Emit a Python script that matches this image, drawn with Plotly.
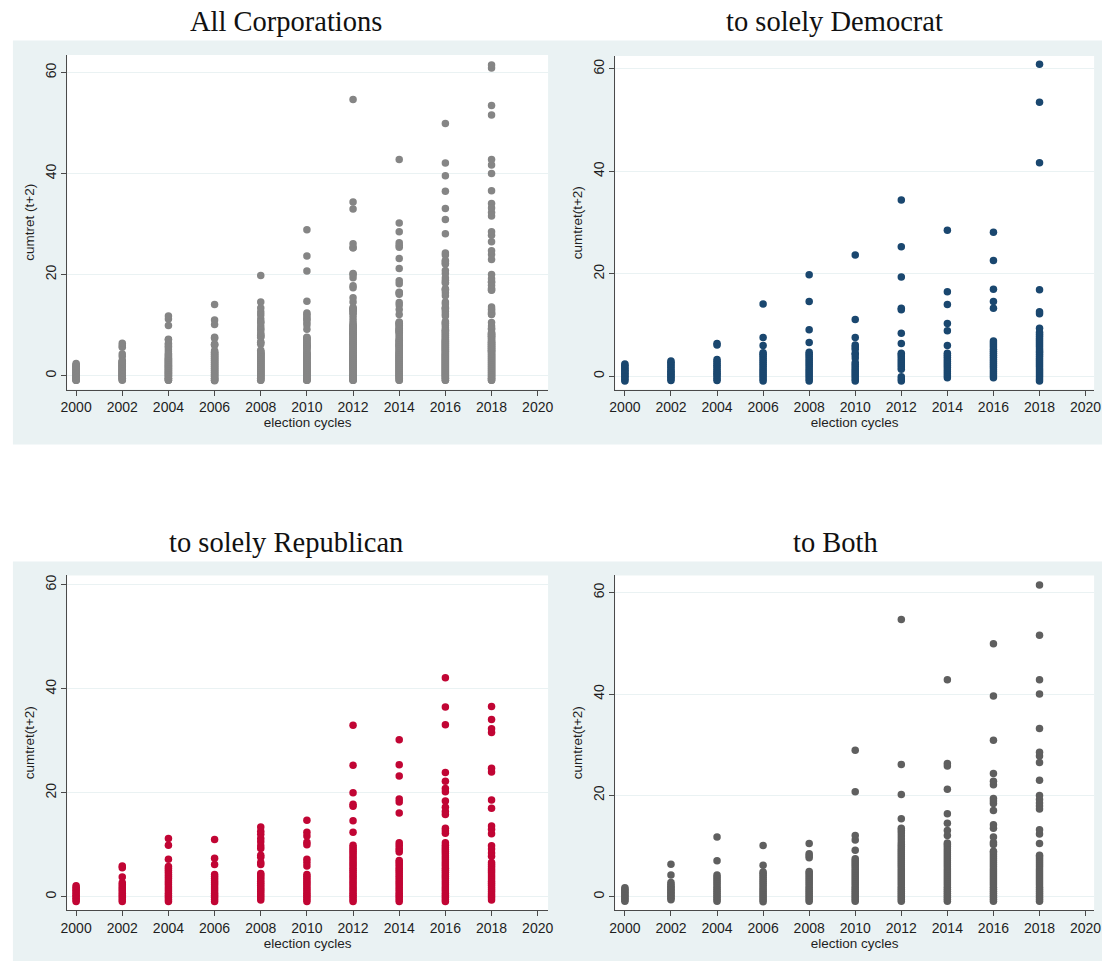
import plotly.graph_objects as go

# Election cycles on the x axis
CYCLES = [2000, 2002, 2004, 2006, 2008, 2010, 2012, 2014, 2016, 2018]
X_TICKS = [2000, 2002, 2004, 2006, 2008, 2010, 2012, 2014, 2016, 2018, 2020]
Y_TICKS = [0, 20, 40, 60]

# cumtret(t+2) for firms giving solely to Democrats, one list per cycle
DEM_VALUES = [
    [-0.9, -0.6, -0.3, 0.0, 0.3, 0.6, 0.9, 1.2, 1.5, 1.8, 2.1, 2.4],
    [-0.8, -0.5, -0.2, 0.1, 0.4, 0.7, 1.0, 1.3, 1.7, 2.0, 2.4, 2.7, 3.0],
    [-0.8, -0.5, -0.1, 0.3, 0.6, 1.0, 1.4, 1.8, 2.1, 2.5, 2.9, 3.3, 6.1, 6.4],
    [-0.9, -0.5, -0.1, 0.3, 0.7, 1.1, 1.5, 1.9, 2.3, 2.7, 3.1, 3.5, 3.9, 4.3, 4.6,
     6.0, 7.6, 14.1],
    [-0.9, -0.5, -0.1, 0.3, 0.7, 1.1, 1.5, 1.9, 2.3, 2.7, 3.1, 3.5, 3.9, 4.3, 4.7,
     6.6, 9.1, 14.6, 19.8],
    [-0.9, -0.5, -0.1, 0.3, 0.7, 1.1, 1.5, 1.9, 2.3, 2.7, 3.6, 4.2, 4.5, 5.3, 5.7,
     6.1, 7.6, 11.1, 23.7],
    [-0.9, -0.5, -0.1, 1.4, 1.8, 2.2, 2.6, 3.0, 3.4, 3.8, 4.2, 4.5, 6.4, 8.4, 13.0,
     13.3, 19.4, 25.3, 34.4],
    [-0.3, 0.1, 0.5, 0.9, 1.3, 1.7, 2.1, 2.5, 2.9, 3.3, 3.7, 4.1, 4.5, 6.0, 8.9,
     10.3, 14.0, 16.5, 28.5],
    [-0.3, 0.1, 0.5, 0.9, 1.3, 1.7, 2.1, 2.5, 2.9, 3.3, 3.7, 4.1, 4.5, 4.9, 5.3,
     5.7, 6.1, 6.5, 6.9, 13.3, 14.6, 17.0, 22.6, 28.1],
    [-0.9, -0.5, -0.1, 0.3, 0.7, 1.1, 1.5, 1.9, 2.3, 2.7, 3.1, 3.5, 3.9, 4.3, 4.7,
     5.0, 5.4, 5.8, 6.2, 6.6, 7.0, 7.4, 7.8, 8.2, 8.6, 9.4, 12.2, 12.6, 16.9,
     41.7, 53.5, 60.9],
]

# cumtret(t+2) for firms giving solely to Republicans
REP_VALUES = [
    [-0.9, -0.6, -0.3, 0.0, 0.3, 0.6, 0.9, 1.2, 1.5, 1.8, 2.1],
    [-0.9, -0.5, -0.1, 0.3, 0.7, 1.1, 1.5, 1.9, 2.3, 2.7, 3.8, 5.6, 5.9],
    [-0.9, -0.5, -0.1, 0.3, 0.7, 1.1, 1.5, 1.9, 2.3, 2.7, 3.1, 3.5, 3.9, 4.3, 4.7,
     5.1, 5.5, 5.8, 7.2, 9.9, 11.2],
    [-0.9, -0.5, -0.1, 0.3, 0.7, 1.1, 1.5, 1.9, 2.3, 2.7, 3.1, 3.5, 3.9, 4.3, 6.2,
     7.4, 11.0],
    [-0.6, -0.2, 0.2, 0.6, 1.0, 1.4, 1.8, 2.2, 2.6, 3.0, 3.4, 3.8, 4.2, 4.5, 6.2,
     6.6, 7.6, 8.0, 9.3, 9.8, 10.6, 11.2, 12.0, 12.6, 13.4],
    [-0.9, -0.5, -0.1, 0.3, 0.7, 1.1, 1.5, 1.9, 2.3, 2.7, 3.1, 3.5, 3.9, 4.3, 5.9,
     6.6, 7.2, 10.0, 10.5, 11.7, 12.4, 14.7],
    [-0.9, -0.5, -0.1, 0.3, 0.7, 1.1, 1.5, 1.9, 2.3, 2.7, 3.1, 3.5, 3.9, 4.3, 4.7,
     5.1, 5.5, 5.9, 6.3, 6.7, 7.1, 7.5, 7.9, 8.3, 8.7, 9.1, 9.5, 9.9, 12.4, 14.6,
     17.4, 17.8, 20.0, 25.3, 33.0],
    [-0.9, -0.5, -0.1, 0.3, 0.7, 1.1, 1.5, 1.9, 2.3, 2.7, 3.1, 3.5, 3.9, 4.3, 4.7,
     5.1, 5.5, 5.9, 6.3, 6.7, 7.0, 8.6, 9.0, 9.4, 9.9, 10.4, 16.1, 18.2, 18.8,
     23.2, 25.4, 30.2],
    [-0.9, -0.5, -0.1, 0.3, 0.7, 1.1, 1.5, 1.9, 2.3, 2.7, 3.1, 3.5, 3.9, 4.3, 4.7,
     5.1, 5.5, 5.9, 6.3, 6.7, 7.1, 7.5, 7.9, 8.3, 8.7, 9.1, 9.5, 9.9, 10.4, 12.2,
     12.7, 13.2, 15.8, 16.4, 17.2, 18.4, 20.2, 20.8, 22.2, 23.9, 33.1, 36.5, 42.1],
    [-0.6, -0.2, 0.2, 0.6, 1.0, 1.4, 1.8, 2.2, 2.6, 3.0, 3.4, 3.8, 4.2, 4.6, 5.0,
     5.4, 5.8, 6.2, 6.6, 7.8, 8.4, 9.2, 9.8, 12.1, 13.0, 13.6, 17.0, 18.6, 24.0,
     24.7, 31.6, 32.3, 34.1, 36.6],
]

# cumtret(t+2) for firms giving to both parties
BOTH_VALUES = [
    [-0.9, -0.6, -0.3, 0.0, 0.3, 0.6, 0.9, 1.2, 1.5, 1.8],
    [-0.6, -0.3, 0.0, 0.3, 0.6, 0.9, 1.2, 1.5, 1.8, 2.1, 2.4, 2.8, 4.3, 6.4],
    [-0.9, -0.5, -0.1, 0.3, 0.7, 1.1, 1.5, 1.9, 2.3, 2.7, 3.1, 3.5, 3.9, 4.3, 7.1,
     11.8],
    [-1.0, -0.6, -0.2, 0.2, 0.6, 1.0, 1.4, 1.8, 2.2, 2.6, 3.0, 3.4, 3.8, 4.2, 4.6,
     4.9, 6.2, 10.1],
    [-0.9, -0.5, -0.1, 0.3, 0.7, 1.1, 1.5, 1.9, 2.3, 2.7, 3.1, 3.5, 3.9, 4.3, 4.7,
     5.0, 7.7, 8.1, 8.5, 10.5],
    [-0.9, -0.5, -0.1, 0.3, 0.7, 1.1, 1.5, 1.9, 2.3, 2.7, 3.1, 3.5, 3.9, 4.3, 4.7,
     5.1, 5.5, 5.9, 6.3, 6.7, 7.1, 7.5, 9.2, 11.2, 12.1, 20.7, 28.9],
    [-0.9, -0.5, -0.1, 0.3, 0.7, 1.1, 1.5, 1.9, 2.3, 2.7, 3.1, 3.5, 3.9, 4.3, 4.7,
     5.1, 5.5, 5.9, 6.3, 6.7, 7.1, 7.5, 7.9, 8.3, 8.7, 9.1, 9.5, 9.9, 10.3, 10.8,
     11.4, 12.0, 12.6, 13.1, 13.5, 15.4, 20.2, 26.1, 54.7],
    [-0.9, -0.5, -0.1, 0.3, 0.7, 1.1, 1.5, 1.9, 2.3, 2.7, 3.1, 3.5, 3.9, 4.3, 4.7,
     5.1, 5.5, 5.9, 6.3, 6.7, 7.1, 7.5, 7.9, 8.3, 8.7, 9.1, 9.5, 9.9, 10.3, 10.6,
     12.1, 13.1, 14.5, 16.4, 21.2, 25.8, 26.3, 42.8],
    [-0.9, -0.5, -0.1, 0.3, 0.7, 1.1, 1.5, 1.9, 2.3, 2.7, 3.1, 3.5, 3.9, 4.3, 4.7,
     5.1, 5.5, 5.9, 6.3, 6.7, 7.1, 7.5, 7.9, 8.3, 8.7, 9.0, 10.3, 10.7, 11.8, 13.5,
     14.2, 17.0, 18.4, 18.9, 19.4, 22.1, 22.8, 24.3, 30.9, 39.6, 49.9],
    [-0.9, -0.5, -0.1, 0.3, 0.7, 1.1, 1.5, 1.9, 2.3, 2.7, 3.1, 3.5, 3.9, 4.3, 4.7,
     5.1, 5.5, 5.9, 6.3, 6.7, 7.1, 7.5, 7.9, 8.2, 10.5, 12.4, 13.2, 17.3, 17.9,
     18.5, 19.2, 20.0, 23.0, 26.5, 27.8, 28.5, 33.2, 40.0, 42.8, 51.6, 61.5],
]

# Every corporation: the three donor groups pooled together
ALL_VALUES = [d + r + b for d, r, b in zip(DEM_VALUES, REP_VALUES, BOTH_VALUES)]

PANEL_TITLES = ["All Corporations", "to solely Democrat",
                "to solely Republican", "to Both"]
Y_TITLES = ["cumtret (t+2)", "cumtret(t+2)", "cumtret(t+2)", "cumtret(t+2)"]
X_TITLE = "election cycles"

# Stata s2color-like palette
BG = "#EAF2F3"
GRID = "#EAF2F3"
AXIS = "#4a4a4a"
TEXT = "#1e1e1e"
MARKER_COLORS = ["#858585", "#1a476f", "#c10534", "#5f5f5f"]

W, H = 1109, 961


def fx(px):
    return px / W


def fy(py):
    return 1 - py / H


# Plot-area pixel boxes (left, right, top, bottom) and axis ranges per panel
PANELS = [
    dict(box=(61, 548, 54, 389), xr=(1999.615, 2020.45), yr=(-2.77, 63.5),
         title_xy=(283, 21)),
    dict(box=(616, 1101, 55, 389), xr=(1999.58, 2020.37), yr=(-2.59, 62.53),
         title_xy=(838, 21)),
    dict(box=(61, 548, 575, 910), xr=(1999.615, 2020.45), yr=(-2.55, 61.79),
         title_xy=(283, 542)),
    dict(box=(616, 1101, 575, 910), xr=(1999.58, 2020.37), yr=(-2.62, 63.41),
         title_xy=(839, 542)),
]
SERIES = [ALL_VALUES, DEM_VALUES, REP_VALUES, BOTH_VALUES]

fig = go.Figure()
layout = dict(
    width=W, height=H,
    margin=dict(l=0, r=0, t=0, b=0),
    paper_bgcolor="white",
    plot_bgcolor="white",
    showlegend=False,
    shapes=[],
    annotations=[],
)

# Outer graph regions (light bluish gray), one band per row
layout["shapes"].append(dict(type="rect", xref="paper", yref="paper",
                             x0=fx(6), x1=1, y0=fy(444), y1=fy(39.5),
                             fillcolor=BG, line=dict(width=0), layer="below"))
layout["shapes"].append(dict(type="rect", xref="paper", yref="paper",
                             x0=fx(6), x1=1, y0=0, y1=fy(561),
                             fillcolor=BG, line=dict(width=0), layer="below"))

for i, (panel, values) in enumerate(zip(PANELS, SERIES)):
    n = "" if i == 0 else str(i + 1)
    xa, ya = "x" + n, "y" + n
    left, right, top, bottom = panel["box"]

    xs, ys = [], []
    for cycle, vals in zip(CYCLES, values):
        xs.extend([cycle] * len(vals))
        ys.extend(vals)

    fig.add_trace(go.Scatter(
        x=xs, y=ys, mode="markers", xaxis=xa, yaxis=ya,
        marker=dict(size=7.5, color=MARKER_COLORS[i], line=dict(width=0)),
        hoverinfo="x+y",
    ))

    layout["xaxis" + n] = dict(
        domain=[fx(left), fx(right)], anchor=ya,
        range=list(panel["xr"]),
        tickmode="array", tickvals=X_TICKS,
        ticks="outside", ticklen=5, tickwidth=1, tickcolor=AXIS,
        showline=True, linecolor=AXIS, linewidth=1.2,
        showgrid=False, zeroline=False,
        tickfont=dict(family="Liberation Sans, Arial", size=14, color=TEXT),
        title=dict(text=X_TITLE, standoff=0,
                   font=dict(family="Liberation Sans, Arial", size=13.5,
                             color=TEXT)),
    )
    layout["yaxis" + n] = dict(
        domain=[fy(bottom), fy(top)], anchor=xa,
        range=list(panel["yr"]),
        tickmode="array", tickvals=Y_TICKS, tickangle=-90,
        ticks="outside", ticklen=5, tickwidth=1, tickcolor=AXIS,
        showline=True, linecolor=AXIS, linewidth=1.2,
        showgrid=True, gridcolor=GRID, gridwidth=1.2, zeroline=False,
        tickfont=dict(family="Liberation Sans, Arial", size=14, color=TEXT),
        title=dict(text=Y_TITLES[i], standoff=4,
                   font=dict(family="Liberation Sans, Arial", size=13.5,
                             color=TEXT)),
    )

    # White plot region on top of the gray band
    layout["shapes"].append(dict(type="rect", xref=xa + " domain",
                                 yref=ya + " domain", x0=0, x1=1, y0=0, y1=1,
                                 fillcolor="white", line=dict(width=0),
                                 layer="below"))

    tx, ty = panel["title_xy"]
    layout["annotations"].append(dict(
        text=PANEL_TITLES[i], xref="paper", yref="paper",
        x=fx(tx), y=fy(ty), xanchor="center", yanchor="middle",
        showarrow=False,
        font=dict(family="Liberation Serif, Times New Roman", size=28.5,
                  color="#111111"),
    ))

fig.update_layout(**layout)
fig.write_html("out.html")
